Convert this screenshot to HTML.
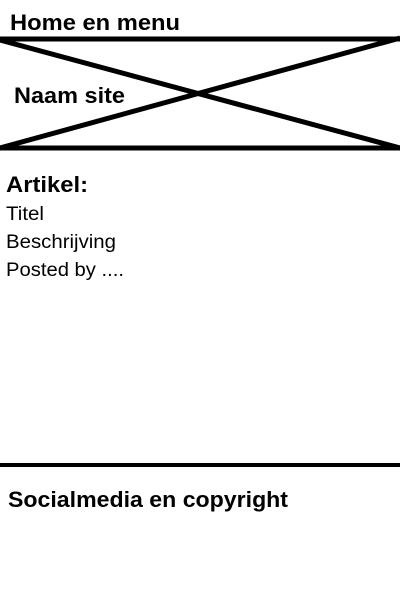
<!DOCTYPE html>
<html><head><style>html,body{margin:0;padding:0;background:#fff;width:400px;height:600px;overflow:hidden}</style></head>
<body>
<svg width="400" height="600" viewBox="0 0 400 600" xmlns="http://www.w3.org/2000/svg" style="display:block">
<g stroke="#000" stroke-width="5" fill="none">
<line x1="0" y1="39" x2="400" y2="39"/>
<line x1="0" y1="148" x2="400" y2="148"/>
<line x1="0" y1="40" x2="400" y2="148"/>
<line x1="0" y1="148" x2="400" y2="38"/>
<line x1="0" y1="465" x2="400" y2="465" stroke-width="4"/>
</g>
<g font-family="Liberation Sans, sans-serif" fill="#000">
<text x="10" y="30" font-size="22" font-weight="bold" textLength="170" lengthAdjust="spacingAndGlyphs">Home en menu</text>
<text x="14" y="103" font-size="22" font-weight="bold" textLength="111" lengthAdjust="spacingAndGlyphs">Naam site</text>
<text x="6" y="192" font-size="22" font-weight="bold" textLength="82" lengthAdjust="spacingAndGlyphs">Artikel:</text>
<text x="6" y="220" font-size="19" textLength="38" lengthAdjust="spacingAndGlyphs">Titel</text>
<text x="6" y="248" font-size="19" textLength="110" lengthAdjust="spacingAndGlyphs">Beschrijving</text>
<text x="6" y="276" font-size="19" textLength="118" lengthAdjust="spacingAndGlyphs">Posted by ....</text>
<text x="8" y="507" font-size="22" font-weight="bold" textLength="280" lengthAdjust="spacingAndGlyphs">Socialmedia en copyright</text>
</g>
</svg>
</body></html>
